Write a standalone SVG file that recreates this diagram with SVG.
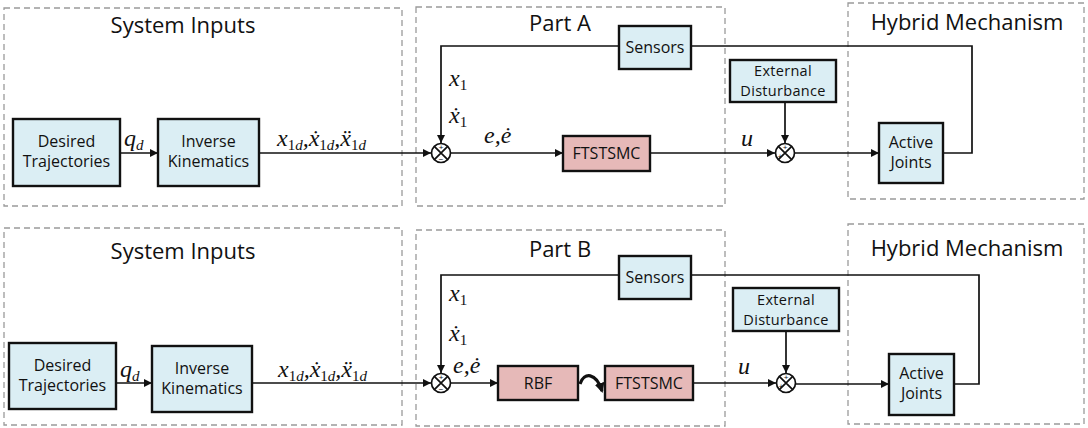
<svg xmlns="http://www.w3.org/2000/svg" width="1088" height="428" viewBox="0 0 1088 428">
<style>
.grp{fill:none;stroke:#9a9a9a;stroke-width:1.3;stroke-dasharray:6,4}
.title{font-family:"Open Sans","Noto Sans",sans-serif;font-size:22px;fill:#111;text-anchor:middle}
.blue{fill:#dbeef4;stroke:#111;stroke-width:2.4}
.pink{fill:#e6b9b8;stroke:#111;stroke-width:2.4}
.lbl{font-family:"Open Sans","Noto Sans",sans-serif;font-size:16px;fill:#111;text-anchor:middle}
.lbs{font-size:14.5px;letter-spacing:0.3px}
.ln{fill:none;stroke:#111;stroke-width:1.7}
.arr{fill:none;stroke:#111;stroke-width:1.7;marker-end:url(#ah)}
.sum{fill:#fff;stroke:#111;stroke-width:1.7}
.sgn{font-family:"Liberation Sans",sans-serif;font-size:8px;fill:#111;text-anchor:middle}
.m{font-family:"Liberation Serif","DejaVu Serif",serif;font-style:italic;font-size:24px;fill:#111}
.sub{font-size:15px;font-style:normal}
.subi{font-size:15px}
</style>
<defs>
<marker id="ah" viewBox="0 0 10 10" refX="10" refY="5" markerWidth="10" markerHeight="8" markerUnits="userSpaceOnUse" orient="auto">
<path d="M0,0 L10,5 L0,10 z" fill="#111"/>
</marker>
<marker id="ah2" viewBox="0 0 10 10" refX="8" refY="5" markerWidth="10" markerHeight="10" markerUnits="userSpaceOnUse" orient="auto">
<path d="M0,0 L10,5 L0,10 z" fill="#111"/>
</marker>
</defs>

<!-- group frames -->
<g id="frames">
<rect class="grp" x="4" y="8" width="398" height="198"/>
<rect class="grp" x="416" y="7" width="309" height="199"/>
<rect class="grp" x="848" y="3" width="236" height="196"/>
<rect class="grp" x="4" y="228" width="398" height="197"/>
<rect class="grp" x="416" y="230" width="309" height="196"/>
<rect class="grp" x="848" y="224" width="236" height="200"/>
<text class="title" x="183" y="33">System Inputs</text>
<text class="title" x="560" y="31">Part A</text>
<text class="title" x="967" y="30">Hybrid Mechanism</text>
<text class="title" x="183" y="259">System Inputs</text>
<text class="title" x="560" y="257">Part B</text>
<text class="title" x="967" y="256">Hybrid Mechanism</text>
</g>

<!-- connectors -->
<g id="connectors">
<!-- top -->
<line class="arr" x1="120" y1="153" x2="158" y2="153"/>
<line class="arr" x1="259" y1="153" x2="431" y2="153"/>
<polyline class="arr" points="619,46 441,46 441,143"/>
<line class="arr" x1="451" y1="153" x2="563" y2="153"/>
<line class="arr" x1="650" y1="153" x2="775" y2="153"/>
<line class="arr" x1="785" y1="102" x2="785" y2="143"/>
<line class="arr" x1="795" y1="153" x2="879" y2="153"/>
<polyline class="ln" points="943,153 972,153 972,46 691,46"/>
<!-- bottom -->
<line class="arr" x1="116" y1="383" x2="152" y2="383"/>
<line class="arr" x1="252" y1="383" x2="431" y2="383"/>
<polyline class="arr" points="619,275 441,275 441,373"/>
<line class="arr" x1="451" y1="383" x2="498" y2="383"/>
<path d="M580,384 C584,372 596,372 602,391" fill="none" stroke="#111" stroke-width="3.2" marker-end="url(#ah2)"/>
<line class="arr" x1="693" y1="383" x2="776" y2="383"/>
<line class="arr" x1="786" y1="331" x2="786" y2="373"/>
<line class="arr" x1="796" y1="384" x2="889" y2="384"/>
<polyline class="ln" points="954,384 979,384 979,275 691,275"/>
</g>

<!-- labels on connectors -->
<g id="math">
<text class="m" x="124" y="146">q<tspan class="subi" dy="4">d</tspan></text>
<text class="m" x="277" y="146">x<tspan class="sub" dy="4">1</tspan><tspan class="subi">d</tspan><tspan dy="-4">,ẋ</tspan><tspan class="sub" dy="4">1</tspan><tspan class="subi">d</tspan><tspan dy="-4">,ẍ</tspan><tspan class="sub" dy="4">1</tspan><tspan class="subi">d</tspan></text>
<text class="m" x="449" y="86">x<tspan class="sub" dy="4">1</tspan></text>
<text class="m" x="449" y="123">ẋ<tspan class="sub" dy="4">1</tspan></text>
<text class="m" x="484" y="143">e,ė</text>
<text class="m" x="741" y="146">u</text>

<text class="m" x="120" y="377">q<tspan class="subi" dy="4">d</tspan></text>
<text class="m" x="278" y="377">x<tspan class="sub" dy="4">1</tspan><tspan class="subi">d</tspan><tspan dy="-4">,ẋ</tspan><tspan class="sub" dy="4">1</tspan><tspan class="subi">d</tspan><tspan dy="-4">,ẍ</tspan><tspan class="sub" dy="4">1</tspan><tspan class="subi">d</tspan></text>
<text class="m" x="449" y="301">x<tspan class="sub" dy="4">1</tspan></text>
<text class="m" x="449" y="341">ẋ<tspan class="sub" dy="4">1</tspan></text>
<text class="m" x="453" y="373">e,ė</text>
<text class="m" x="738" y="374">u</text>
</g>

<!-- top row nodes -->
<g id="desired-a"><rect class="blue" x="13" y="119" width="107" height="67"/><text class="lbl" x="66.5" y="147">Desired</text><text class="lbl" x="66.5" y="167">Trajectories</text></g>
<g id="inverse-a"><rect class="blue" x="158" y="119" width="101" height="67"/><text class="lbl" x="208.5" y="147">Inverse</text><text class="lbl" x="208.5" y="167">Kinematics</text></g>
<g id="sensors-a"><rect class="blue" x="619" y="26" width="72" height="43"/><text class="lbl" x="655" y="53">Sensors</text></g>
<g id="ftstsmc-a"><rect class="pink" x="563" y="136" width="87" height="35"/><text class="lbl" x="606.5" y="159">FTSTSMC</text></g>
<g id="disturbance-a"><rect class="blue" x="730" y="60" width="106" height="42"/><text class="lbl lbs" x="783" y="76">External</text><text class="lbl lbs" x="783" y="96">Disturbance</text></g>
<g id="joints-a"><rect class="blue" x="879" y="123" width="64" height="60"/><text class="lbl" x="911" y="148">Active</text><text class="lbl" x="911" y="168">Joints</text></g>
<g id="sum-a1"><circle class="sum" cx="441" cy="153" r="9.5"/><path class="ln" d="M434.3,146.3 L447.7,159.7 M447.7,146.3 L434.3,159.7" stroke-width="1.3"/><text class="sgn" x="441" y="150">+</text><text class="sgn" x="441" y="162">−</text></g>
<g id="sum-a2"><circle class="sum" cx="785" cy="153" r="9.5"/><path class="ln" d="M778.3,146.3 L791.7,159.7 M791.7,146.3 L778.3,159.7" stroke-width="1.3"/><text class="sgn" x="785" y="150">+</text><text class="sgn" x="780" y="159">+</text></g>

<!-- bottom row nodes -->
<g id="desired-b"><rect class="blue" x="9" y="343" width="107" height="66"/><text class="lbl" x="62.5" y="371">Desired</text><text class="lbl" x="62.5" y="391">Trajectories</text></g>
<g id="inverse-b"><rect class="blue" x="152" y="346" width="100" height="66"/><text class="lbl" x="202" y="374">Inverse</text><text class="lbl" x="202" y="394">Kinematics</text></g>
<g id="sensors-b"><rect class="blue" x="619" y="256" width="72" height="43"/><text class="lbl" x="655" y="283">Sensors</text></g>
<g id="rbf-b"><rect class="pink" x="498" y="366" width="80" height="34"/><text class="lbl" x="538" y="389">RBF</text></g>
<g id="ftstsmc-b"><rect class="pink" x="605" y="366" width="88" height="34"/><text class="lbl" x="649" y="389">FTSTSMC</text></g>
<g id="disturbance-b"><rect class="blue" x="733" y="288" width="106" height="43"/><text class="lbl lbs" x="786" y="305">External</text><text class="lbl lbs" x="786" y="325">Disturbance</text></g>
<g id="joints-b"><rect class="blue" x="889" y="354" width="65" height="61"/><text class="lbl" x="921.5" y="379">Active</text><text class="lbl" x="921.5" y="399">Joints</text></g>
<g id="sum-b1"><circle class="sum" cx="441" cy="383" r="9.5"/><path class="ln" d="M434.3,376.3 L447.7,389.7 M447.7,376.3 L434.3,389.7" stroke-width="1.3"/><text class="sgn" x="441" y="380">+</text><text class="sgn" x="441" y="392">−</text></g>
<g id="sum-b2"><circle class="sum" cx="786" cy="383" r="9.5"/><path class="ln" d="M779.3,376.3 L792.7,389.7 M792.7,376.3 L779.3,389.7" stroke-width="1.3"/><text class="sgn" x="786" y="380">+</text><text class="sgn" x="781" y="389">+</text></g>
</svg>
